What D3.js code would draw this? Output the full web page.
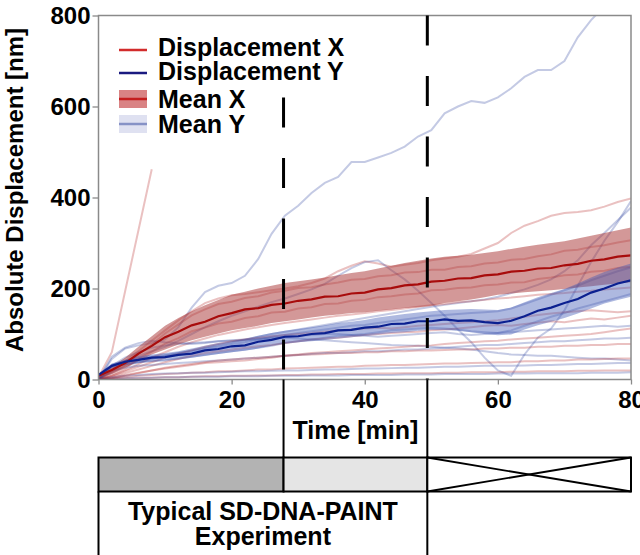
<!DOCTYPE html>
<html>
<head>
<meta charset="utf-8">
<script src="https://cdn.jsdelivr.net/npm/d3@7"></script>
<style>
  html, body { margin: 0; padding: 0; background: #fff; }
  svg { display: block; font-family: "Liberation Sans", Arial, sans-serif; font-weight: bold; }
</style>
</head>
<body>
<svg id="chart" width="640" height="555"></svg>
<script>
// Sampling times (minutes)
const minutes = [0,2,4,6,8,10,12,14,16,18,20,22,24,26,28,30,32,34,36,38,40,42,44,46,48,50,52,54,56,58,60,62,64,66,68,70,72,74,76,78,80];

// Mean absolute displacement along X with its spread (nm)
const meanX  = [8,21,36,57,74,93,105,119,127,139,146,154,157,164,167,173,176,182,183,189,191,198,201,207,209,215,217,222,223,229,231,237,239,244,245,251,254,261,264,270,273];
const upperX = [12,28,48,72,95,118,135,150,163,175,186,193,200,206,212,216,220,224,229,234,238,244,250,256,261,266,270,272,274,278,282,287,292,296,300,304,310,316,322,328,334];
const lowerX = [4,12,26,40,55,66,77,86,94,101,108,113,118,124,128,132,136,140,143,146,148,151,154,157,159,162,168,172,176,181,186,189,192,194,196,199,202,205,208,211,214];

// Mean absolute displacement along Y with its spread (nm)
const meanY  = [10,30,39,43,48,49,54,57,64,67,73,75,83,87,94,95,100,102,108,109,114,116,122,123,128,128,132,129,130,126,124,129,139,151,158,168,177,191,200,211,218];
const upperY = [13,35,44,51,55,58,62,68,74,80,84,89,96,102,107,111,115,119,124,127,131,136,140,144,147,150,153,154,155,154,153,158,170,181,190,199,211,224,236,246,255];
const lowerY = [7,25,32,37,39,42,44,48,52,56,60,63,68,74,79,82,84,87,90,93,96,99,102,104,107,109,109,107,104,100,97,99,110,119,127,135,145,156,167,175,182];

// Individual particle tracks, X displacement (nm)
const tracksX = [
  [5,60,194,328,462],
  [0,18,40,62,85,108,130,150,168,178,185,188,192,196,200,205,212,222,238,250,260,255,248,252,256,262,266,270,276,288,300,322,338,348,360,366,368,372,380,390,398],
  [0,11,24,46,61,79,91,106,114,123,127,135,139,147,149,156,159,166,167,173,175,181,183,187,189,196,197,201,202,207,209,213,214,221,224,229,231,237,239,245,248],
  [2,16,31,56,77,101,121,141,154,166,171,179,183,191,195,201,203,209,213,219,221,227,229,235,236,241,241,247,249,255,257,263,265,271,275,283,285,291,295,301,306],
  [0,8,20,34,48,60,72,82,90,98,104,110,115,120,124,128,132,136,140,143,146,150,153,156,160,163,166,170,172,175,178,180,183,186,188,190,193,195,198,200,202],
  [0,6,14,22,30,38,45,52,58,62,66,70,73,76,80,84,88,90,92,95,98,100,102,104,105,108,110,112,115,118,120,118,122,125,128,126,130,134,132,136,140],
  [0,4,10,15,20,24,28,32,36,38,40,42,45,48,52,55,58,60,62,64,66,68,70,72,74,75,78,80,82,84,85,88,90,92,94,96,98,100,104,108,112],
  [0,2,5,8,10,12,13,15,16,18,18,20,22,22,24,25,26,27,28,28,30,31,32,32,33,34,35,35,36,37,38,38,40,40,42,42,44,44,45,46,46],
  [1,8,18,28,38,48,56,64,72,78,84,88,92,95,98,100,102,105,108,110,112,114,112,115,118,120,122,124,126,128,130,134,138,142,145,148,150,152,150,148,150],
  [0,1,2,3,4,5,5,6,7,7,8,8,9,9,10,10,11,11,12,12,12,13,13,14,14,14,15,15,16,16,16,17,17,18,18,18,19,19,20,20,20],
  [0,3,8,14,20,26,30,34,38,42,44,46,48,50,52,54,55,56,58,58,60,60,62,62,64,64,65,66,66,68,68,70,70,72,72,74,74,76,76,78,78]
];

// Individual particle tracks, Y displacement (nm)
const tracksY = [
  [0,45,68,75,80,88,115,158,192,206,212,228,265,320,360,382,410,432,445,478,478,488,498,512,534,548,585,600,612,608,620,640,665,680,680,700,752,790,820,850,870],
  [0,22,40,52,62,72,85,100,115,128,140,150,160,170,178,188,198,210,228,245,258,262,240,220,195,168,140,110,82,48,20,8,55,92,112,152,206,258,305,346,392],
  [0,15,30,38,45,52,58,64,70,76,82,88,94,100,105,110,115,120,125,130,135,140,145,150,155,160,164,168,172,176,182,190,198,208,220,238,262,295,322,350,378],
  [0,32,40,46,50,54,58,62,68,72,78,82,88,94,98,102,106,110,114,118,120,124,128,132,136,140,142,144,146,148,150,156,166,176,186,196,206,218,228,238,246],
  [0,28,34,38,40,42,46,50,54,58,62,66,70,74,80,84,88,92,96,98,100,104,108,110,112,114,112,110,106,104,102,108,118,128,138,146,156,164,172,180,188],
  [0,30,48,60,70,75,78,80,82,84,85,86,88,90,92,90,88,86,84,82,80,78,76,75,74,72,70,68,66,62,58,55,54,52,52,50,48,46,46,44,42],
  [0,50,70,80,85,82,80,78,80,84,86,88,90,92,94,96,98,100,100,98,96,94,96,98,100,102,104,100,98,100,102,104,106,108,110,112,114,116,118,116,118],
  [0,5,8,10,12,13,14,15,15,16,17,18,18,19,20,20,21,22,22,23,24,24,25,26,26,27,28,28,29,30,30,30,31,32,32,33,34,34,35,36,36],
  [0,20,26,30,32,34,36,38,40,42,44,46,48,50,52,54,56,58,58,60,62,62,64,66,66,68,70,72,74,76,76,78,80,82,84,84,86,88,90,90,92],
  [0,2,3,4,4,5,5,6,6,6,7,7,7,8,8,8,9,9,9,10,10,10,10,11,11,11,12,12,12,12,13,13,13,14,14,14,14,15,15,15,16]
];

// Axis ticks
const xTicks = [0, 20, 40, 60, 80];
const yTicks = [0, 200, 400, 600, 800];

// Experiment phases (minutes) shown under the time axis
const phaseEdges = [0, 27.8, 49.4, 80];
const phaseFills = ["#b3b3b3", "#e5e5e5", "#ffffff"];

const legendLabels = ["Displacement X", "Displacement Y", "Mean X", "Mean Y"];

const svg = d3.select("#chart");
const x = d3.scaleLinear().domain([0, 80]).range([98.5, 631]);
const y = d3.scaleLinear().domain([0, 800]).range([379.5, 15.5]);

const colX = "#b22222", colY = "#2a3f9f";
const meanColX = "#a80c0c", meanColY = "#0b2090";

svg.append("defs").append("clipPath").attr("id", "plot-clip")
  .append("rect")
  .attr("x", x(0)).attr("y", y(800))
  .attr("width", x(80) - x(0)).attr("height", y(0) - y(800));

const plot = svg.append("g").attr("clip-path", "url(#plot-clip)");

const trackLine = d3.line()
  .x((d, i) => x(minutes[i]))
  .y(d => y(d));

// faint individual tracks, alternating X and Y
const n = Math.max(tracksX.length, tracksY.length);
for (let k = 0; k < n; k++) {
  if (tracksX[k]) plot.append("path").attr("d", trackLine(tracksX[k]))
    .attr("fill", "none").attr("stroke", colX).attr("stroke-opacity", 0.28).attr("stroke-width", 2);
  if (tracksY[k]) plot.append("path").attr("d", trackLine(tracksY[k]))
    .attr("fill", "none").attr("stroke", colY).attr("stroke-opacity", 0.28).attr("stroke-width", 2);
}

// spread bands
const idx = minutes.map((m, i) => i);
const band = (lo, hi) => d3.area()
  .x(i => x(minutes[i]))
  .y0(i => y(lo[i]))
  .y1(i => y(hi[i]));

plot.append("path").attr("d", band(lowerX, upperX)(idx))
  .attr("fill", "#a83232").attr("fill-opacity", 0.5);
plot.append("path").attr("d", band(lowerY, upperY)(idx))
  .attr("fill", "#3f59b5").attr("fill-opacity", 0.42);

// mean curves
plot.append("path").attr("d", trackLine(meanX))
  .attr("fill", "none").attr("stroke", meanColX).attr("stroke-width", 2.2);
plot.append("path").attr("d", trackLine(meanY))
  .attr("fill", "none").attr("stroke", meanColY).attr("stroke-width", 2.2);

// frame
svg.append("rect")
  .attr("x", x(0)).attr("y", y(800))
  .attr("width", x(80) - x(0)).attr("height", y(0) - y(800))
  .attr("fill", "none").attr("stroke", "#8a8a8a").attr("stroke-width", 1.5);

// axes
const yAxis = svg.append("g").attr("transform", `translate(${x(0)},0)`)
  .call(d3.axisLeft(y).tickValues(yTicks).tickSize(6).tickPadding(2));
const xAxis = svg.append("g").attr("transform", `translate(0,${y(0)})`)
  .call(d3.axisBottom(x).tickValues(xTicks).tickSize(5).tickPadding(6));
[yAxis, xAxis].forEach(g => {
  g.select(".domain").remove();
  g.selectAll(".tick line").attr("stroke", "#8a8a8a").attr("stroke-width", 1.3);
  g.selectAll(".tick text").attr("fill", "#000")
    .style("font-size", "24px").style("font-weight", "bold")
    .style("font-family", '"Liberation Sans", Arial, sans-serif');
});

// axis titles
svg.append("text")
  .attr("transform", `translate(23,190) rotate(-90)`)
  .attr("text-anchor", "middle").attr("font-size", 24).text("Absolute Displacement [nm]");
svg.append("text")
  .attr("x", (x(phaseEdges[1]) + x(phaseEdges[2])) / 2).attr("y", 439)
  .attr("text-anchor", "middle").attr("font-size", 25).text("Time [min]");

// phase markers inside the plot
const dashTops = [620, 800];
phaseEdges.slice(1, 3).forEach((t, i) => {
  svg.append("line")
    .attr("x1", x(t)).attr("x2", x(t))
    .attr("y1", y(dashTops[i])).attr("y2", y(0))
    .attr("stroke", "#000").attr("stroke-width", 3)
    .attr("stroke-dasharray", "30,30.5");
});

// connectors from the axis down to the phase bar
const barTop = 457.5, barH = 34;
svg.append("line").attr("x1", x(phaseEdges[1])).attr("x2", x(phaseEdges[1]))
  .attr("y1", y(0)).attr("y2", barTop).attr("stroke", "#000").attr("stroke-width", 2);
svg.append("line").attr("x1", x(phaseEdges[2])).attr("x2", x(phaseEdges[2]))
  .attr("y1", y(0)).attr("y2", 560).attr("stroke", "#000").attr("stroke-width", 2);

// phase bar
phaseFills.forEach((f, i) => {
  const x0 = x(phaseEdges[i]), x1 = x(phaseEdges[i + 1]);
  svg.append("rect").attr("x", x0).attr("y", barTop).attr("width", x1 - x0).attr("height", barH)
    .attr("fill", f).attr("stroke", "#000").attr("stroke-width", 2);
});
{
  const x0 = x(phaseEdges[2]), x1 = x(phaseEdges[3]);
  svg.append("line").attr("x1", x0).attr("y1", barTop).attr("x2", x1).attr("y2", barTop + barH)
    .attr("stroke", "#000").attr("stroke-width", 1.8);
  svg.append("line").attr("x1", x0).attr("y1", barTop + barH).attr("x2", x1).attr("y2", barTop)
    .attr("stroke", "#000").attr("stroke-width", 1.8);
}

// box for the typical experiment span
svg.append("line").attr("x1", x(0)).attr("x2", x(0))
  .attr("y1", barTop + barH).attr("y2", 560).attr("stroke", "#000").attr("stroke-width", 2);
const boxMid = (x(phaseEdges[0]) + x(phaseEdges[2])) / 2;
svg.append("text").attr("x", boxMid).attr("y", 520).attr("text-anchor", "middle")
  .attr("font-size", 25).text("Typical SD-DNA-PAINT");
svg.append("text").attr("x", boxMid).attr("y", 545).attr("text-anchor", "middle")
  .attr("font-size", 25).text("Experiment");

// legend
const lg = svg.append("g");
const lx0 = 119, lx1 = 147, tx = 158;
const handleY = [50, 73, 99, 124];
const baseY = [56, 80, 108, 133];
lg.append("line").attr("x1", lx0).attr("x2", lx1).attr("y1", handleY[0]).attr("y2", handleY[0])
  .attr("stroke", "#d22b2b").attr("stroke-width", 2.5);
lg.append("line").attr("x1", lx0).attr("x2", lx1).attr("y1", handleY[1]).attr("y2", handleY[1])
  .attr("stroke", "#1a1a80").attr("stroke-width", 2.5);
lg.append("rect").attr("x", lx0).attr("y", handleY[2] - 9).attr("width", lx1 - lx0).attr("height", 18)
  .attr("fill", "#d98384");
lg.append("line").attr("x1", lx0).attr("x2", lx1).attr("y1", handleY[2]).attr("y2", handleY[2])
  .attr("stroke", "#c41e1e").attr("stroke-width", 2.5);
lg.append("rect").attr("x", lx0).attr("y", handleY[3] - 9).attr("width", lx1 - lx0).attr("height", 18)
  .attr("fill", "#dfe1f1");
lg.append("line").attr("x1", lx0).attr("x2", lx1).attr("y1", handleY[3]).attr("y2", handleY[3])
  .attr("stroke", "#8692c6").attr("stroke-width", 2.5);
legendLabels.forEach((t, i) => {
  lg.append("text").attr("x", tx).attr("y", baseY[i]).attr("font-size", 25).text(t);
});
</script>
</body>
</html>
